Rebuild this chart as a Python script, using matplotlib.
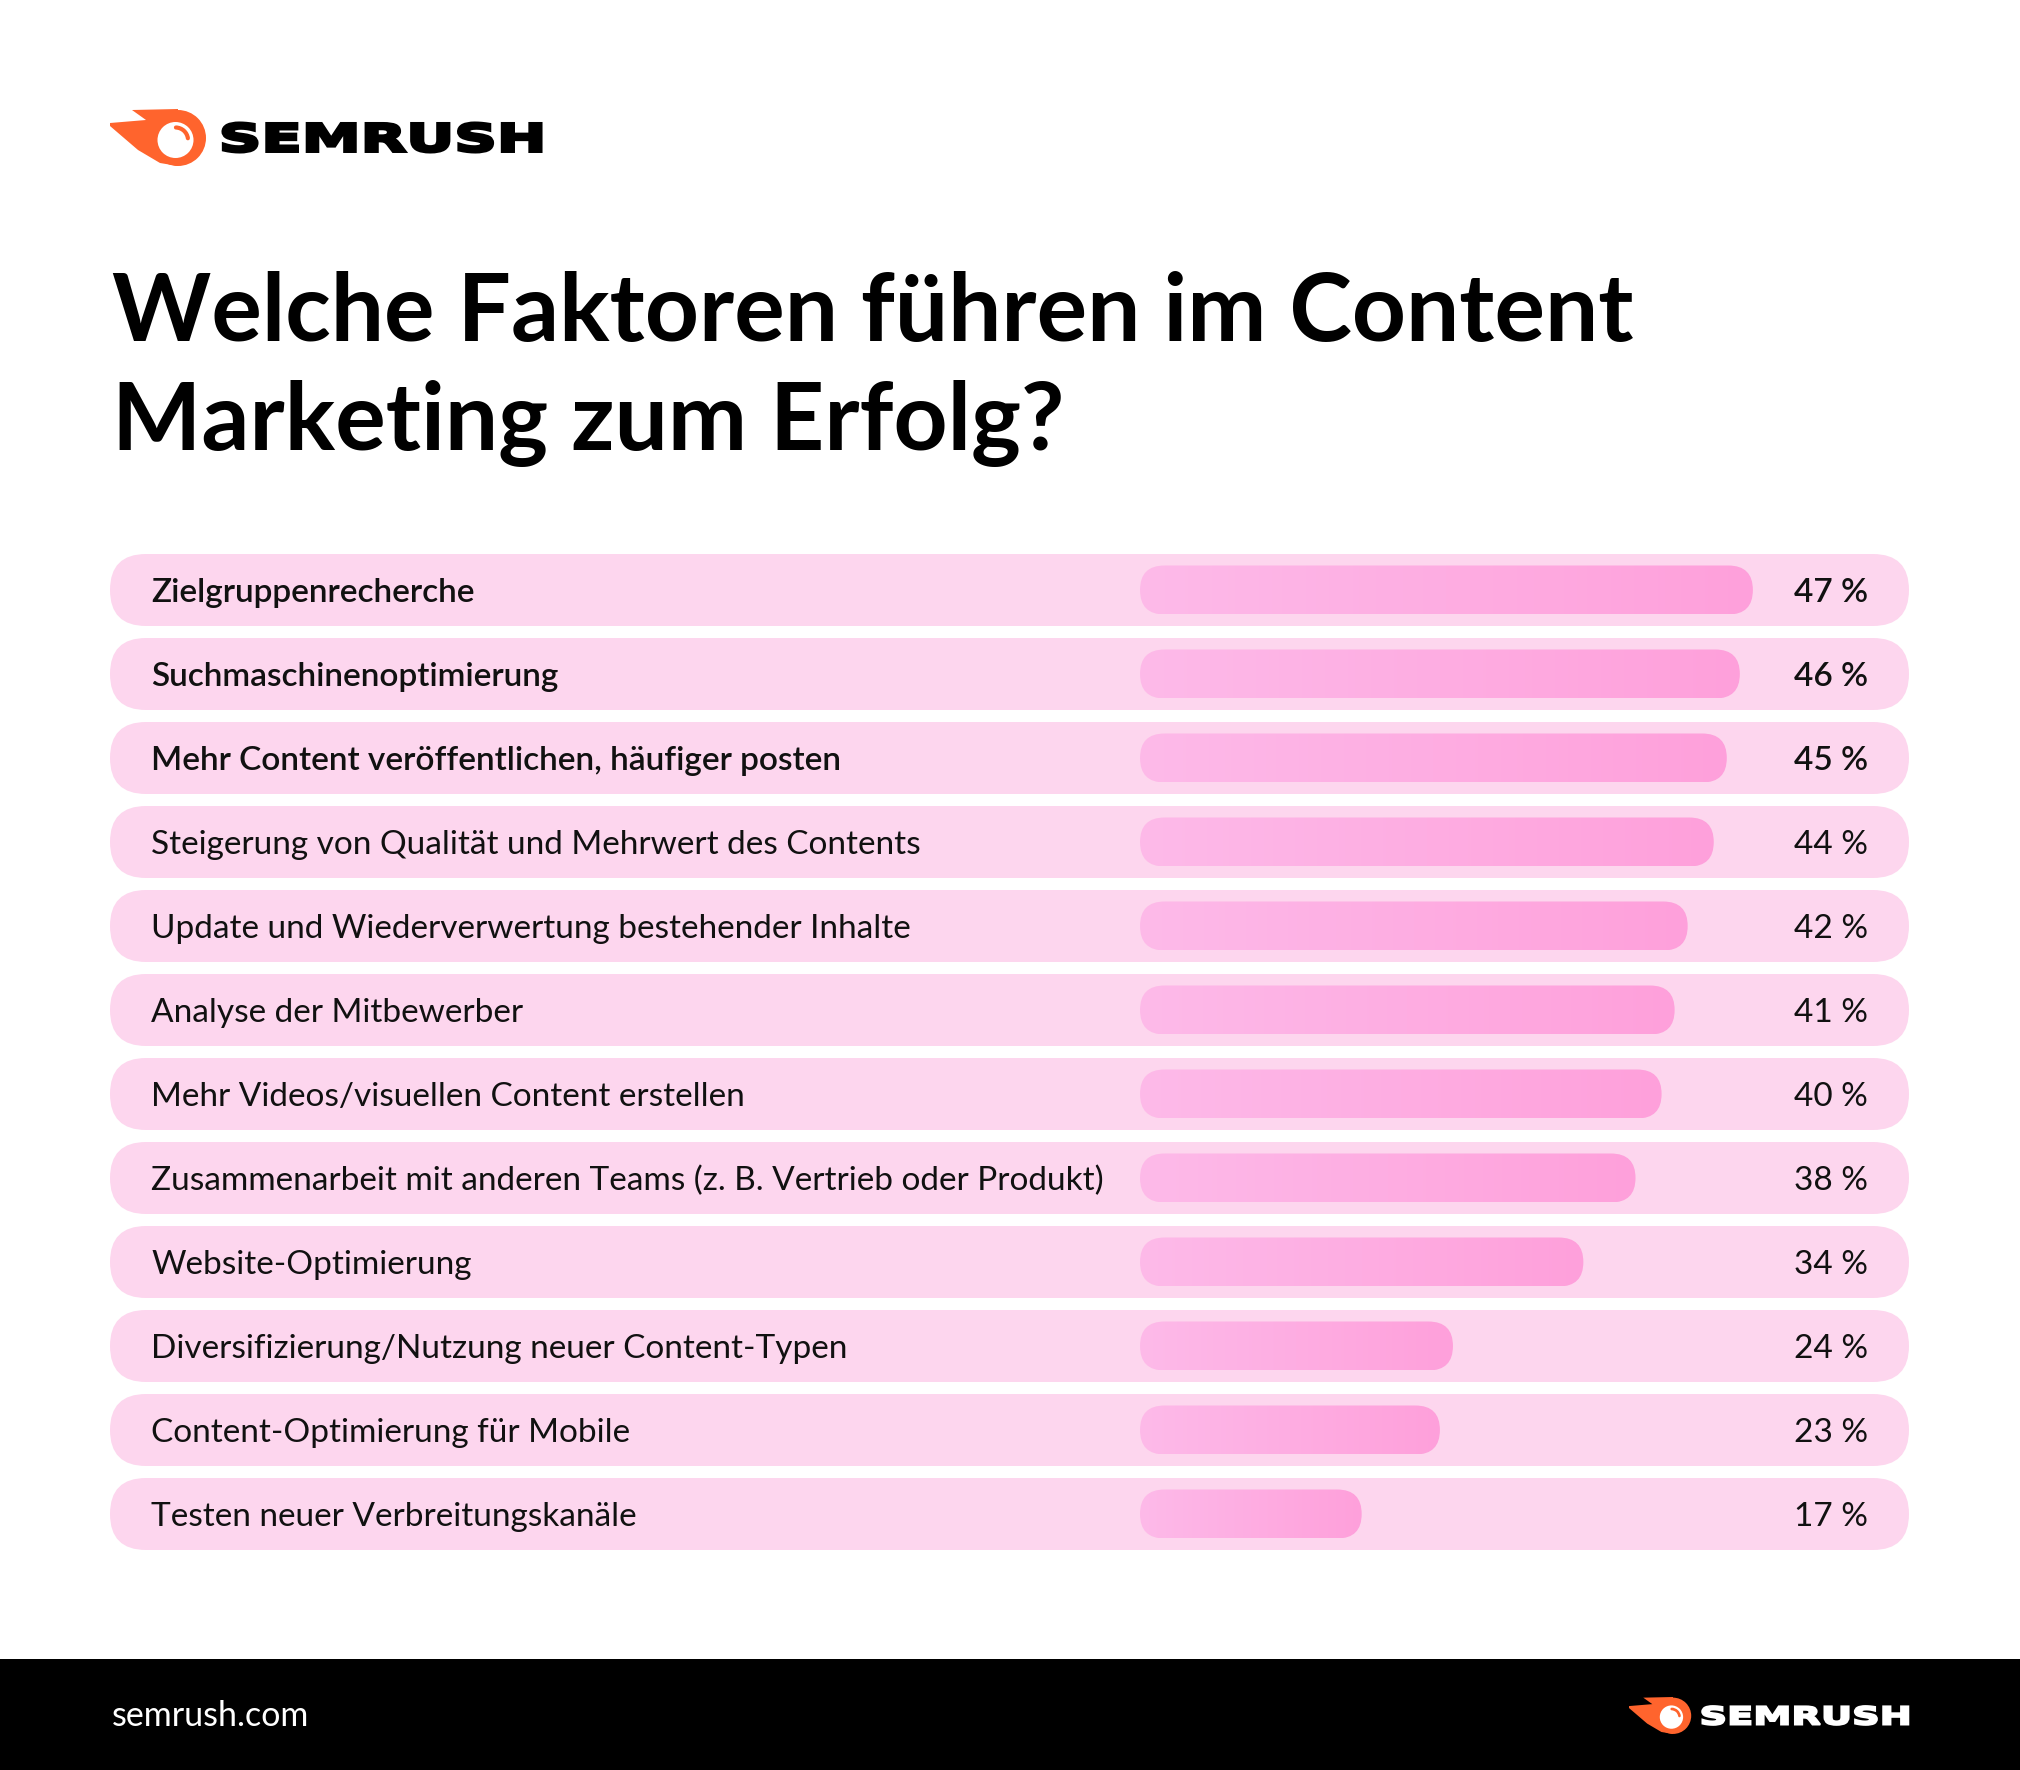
import matplotlib
matplotlib.use("Agg")
import matplotlib.pyplot as plt
import numpy as np
from matplotlib.patches import FancyBboxPatch, Circle, Polygon, Arc, Rectangle, PathPatch
from matplotlib.textpath import TextPath
from matplotlib.font_manager import FontProperties
from matplotlib.transforms import Affine2D
from matplotlib.colors import LinearSegmentedColormap

# data
factors = [
    "Zielgruppenrecherche",
    "Suchmaschinenoptimierung",
    "Mehr Content veröffentlichen, häufiger posten",
    "Steigerung von Qualität und Mehrwert des Contents",
    "Update und Wiederverwertung bestehender Inhalte",
    "Analyse der Mitbewerber",
    "Mehr Videos/visuellen Content erstellen",
    "Zusammenarbeit mit anderen Teams (z. B. Vertrieb oder Produkt)",
    "Website-Optimierung",
    "Diversifizierung/Nutzung neuer Content-Typen",
    "Content-Optimierung für Mobile",
    "Testen neuer Verbreitungskanäle",
]
shares = [47, 46, 45, 44, 42, 41, 40, 38, 34, 24, 23, 17]
n_bold = 3  # first rows are set in semibold

title_lines = ["Welche Faktoren führen im Content", "Marketing zum Erfolg?"]
footer_url = "semrush.com"

ORANGE = "#FF642D"
ROW_BG = "#FDD6EE"
BAR_L = "#FDBAE9"
BAR_R = "#FFA0DB"
FONT = "Lato"

W, H = 2020, 1770
fig = plt.figure(figsize=(W / 100, H / 100), dpi=100)
fig.patch.set_facecolor("white")

# full-figure axes in pixel units for logo / title / footer
bg = fig.add_axes([0, 0, 1, 1])
bg.set_xlim(0, W)
bg.set_ylim(H, 0)
bg.axis("off")


def draw_logo(ax, x0, y0, s, text_color):
    # icon: orange disc + flame, white eye, orange highlight arc
    def p(x, y):
        return (x0 + (x - 110) * s, y0 + (y - 109) * s)
    flame = [p(132, 110), p(178, 109), p(178, 166), p(160, 163), p(138, 150),
             p(110, 126), p(110, 123), p(146, 120)]
    ax.add_patch(Polygon(flame, closed=True, fc=ORANGE, ec="none"))
    ax.add_patch(Circle(p(178, 138), 28 * s, fc=ORANGE, ec="none"))
    ax.add_patch(Circle(p(175.5, 140), 18 * s, fc="white", ec="none"))
    ax.add_patch(Arc(p(175.5, 140), 25 * s, 25 * s, theta1=-88, theta2=-8,
                     color=ORANGE, lw=3.0 * s, capstyle="round"))
    # wordmark fitted into its box
    tp = TextPath((0, 0), "SEMRUSH", size=100,
                  prop=FontProperties(family="DejaVu Sans", weight="bold"))
    ext = tp.get_extents()
    bx0, by0 = p(223, 123)
    bx1, by1 = p(541, 152)
    tr = (Affine2D().translate(-ext.x0, -ext.y0)
          .scale((bx1 - bx0) / ext.width, -(by1 - by0) / ext.height)
          .translate(bx0, by1))
    ax.add_patch(PathPatch(tr.transform_path(tp), fc=text_color, ec=text_color,
                           lw=2.2 * s, joinstyle="miter"))


draw_logo(bg, 110, 109, 1.0, "black")

# title
bg.text(112, 341, title_lines[0], fontsize=68, fontweight="bold",
        family=FONT, va="baseline", ha="left", color="black")
bg.text(112, 450, title_lines[1], fontsize=68, fontweight="bold",
        family=FONT, va="baseline", ha="left", color="black")

# footer
bg.add_patch(Rectangle((0, 1659), W, H - 1659, fc="black", ec="none"))
bg.text(112, 1716, footer_url, fontsize=24.5, family=FONT, color="white",
        va="center", ha="left")
draw_logo(bg, 1629, 1697, 0.648, "white")

# chart axes: x in percent, y in rows
px_per_pct = 13.04
row_pitch = 84
left_px, right_px, zero_px = 110, 1909, 1140
top_px = 590 - row_pitch / 2
bottom_px = top_px + row_pitch * len(factors)
ax = fig.add_axes([left_px / W, 1 - bottom_px / H,
                   (right_px - left_px) / W, (bottom_px - top_px) / H])
ax.patch.set_alpha(0)
ax.set_autoscale_on(False)
xmin = -(zero_px - left_px) / px_per_pct
xmax = (right_px - zero_px) / px_per_pct
ax.set_xlim(xmin, xmax)
ax.set_ylim(len(factors) - 0.5, -0.5)
ax.axis("off")

asp = px_per_pct / row_pitch
row_h = 72 / row_pitch
bar_h = 49 / row_pitch
cmap = LinearSegmentedColormap.from_list("pinkbar", [BAR_L, BAR_R])
grad = np.linspace(0, 1, 256).reshape(1, -1)

for i, (name, v) in enumerate(zip(factors, shares)):
    ax.add_patch(FancyBboxPatch((xmin, i - row_h / 2), xmax - xmin, row_h,
                                boxstyle=f"round,pad=0,rounding_size={36 / px_per_pct}",
                                mutation_aspect=asp, fc=ROW_BG, ec="none", zorder=1))
    bar = FancyBboxPatch((0, i - bar_h / 2), v, bar_h,
                         boxstyle=f"round,pad=0,rounding_size={24.5 / px_per_pct}",
                         mutation_aspect=asp, fc="none", ec="none", zorder=2)
    ax.add_patch(bar)
    im = ax.imshow(grad, extent=(0, v, i + bar_h / 2, i - bar_h / 2),
                   aspect="auto", cmap=cmap, interpolation="bilinear", zorder=3)
    im.set_clip_path(bar)
    w = "semibold" if i < n_bold else "normal"
    ax.text((151 - left_px) / (right_px - left_px), i + 0.03, name,
            transform=ax.get_yaxis_transform(), fontsize=24, family=FONT,
            fontweight=w, va="center", ha="left", color="#111111", zorder=4)
    ax.text((1868 - left_px) / (right_px - left_px), i + 0.03, f"{v} %",
            transform=ax.get_yaxis_transform(), fontsize=24, family=FONT,
            fontweight=w, va="center", ha="right", color="#111111", zorder=4)

ax.set_xlim(xmin, xmax)
ax.set_ylim(len(factors) - 0.5, -0.5)

fig.savefig("out.png", dpi=100, facecolor="white")
